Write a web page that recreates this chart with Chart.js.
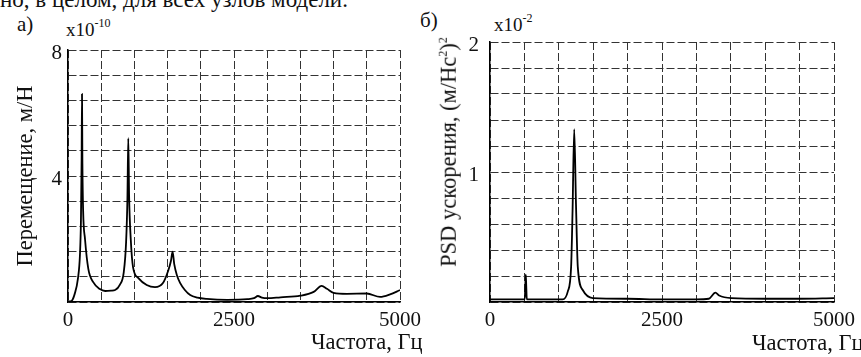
<!DOCTYPE html>
<html>
<head>
<meta charset="utf-8">
<script src="https://cdn.jsdelivr.net/npm/chart.js@4.4.1/dist/chart.umd.min.js"></script>
<style>
    body { margin: 0; background: #fff; width: 861px; height: 357px; overflow: hidden; position: relative;
           font-family: "Liberation Serif", "DejaVu Serif", serif; color: #111; }
    .box { position: absolute; top: 0; height: 357px; }
    .txt { position: absolute; white-space: nowrap; line-height: 1; font-size: 22.5px; }
    .txt sup { font-size: 12px; vertical-align: baseline; position: relative; top: -9px; }
</style>
</head>
<body>
<div class="txt" style="left:0; top:-12px; font-size:23px;">но, в целом, для всех узлов модели.</div>
<div class="txt" style="left:17px; top:14px; font-size:21px;">а)</div>
<div class="txt" style="left:66px; top:20px; font-size:19px;">x10<sup>-10</sup></div>
<div class="txt" style="left:420px; top:10px; font-size:21px;">б)</div>
<div class="txt" style="left:494px; top:15px; font-size:19px;">x10<sup>-2</sup></div>

<div class="box" style="left:0; width:430px;"><canvas id="chartA" width="430" height="357"></canvas></div>
<div class="box" style="left:430px; width:431px;"><canvas id="chartB" width="431" height="357"></canvas></div>

<div class="txt" style="left:311px; top:331px;">Частота, Гц</div>
<div class="txt" style="left:752px; top:332px;">Частота, Гц</div>
<div class="txt" style="left:449px; top:152px; transform: translate(-50%, -50%) rotate(-90deg);">PSD ускорения, (м/Нс<sup>2</sup>)<sup>2</sup></div>

<script>
// а) displacement FRF, x10^-10 m/N
const freqA = [0, 50, 100, 150, 180, 195, 205, 211, 217, 228,
               256, 306, 380, 480, 560, 650, 710, 780, 840, 875,
               895, 908, 920, 945, 980, 1060, 1185, 1310, 1430, 1510,
               1550, 1575, 1600, 1640, 1690, 1760, 1840, 1950, 2090, 2400,
               2700, 2800, 2860, 2920, 3000, 3200, 3500, 3700, 3820, 3900,
               4000, 4200, 4500, 4700, 4850, 5000];
const dispA = [0.02, 0.03, 0.25, 0.75, 1.5, 2.6, 4.5, 6.6, 4.4, 2.9,
               2.0, 1.05, 0.63, 0.41, 0.35, 0.36, 0.38, 0.54, 0.95, 1.9,
               3.3, 5.2, 3.4, 2.0, 1.1, 0.76, 0.54, 0.47, 0.6, 1.0,
               1.3, 1.6, 1.2, 0.85, 0.6, 0.38, 0.22, 0.14, 0.1, 0.07,
               0.09, 0.12, 0.19, 0.14, 0.12, 0.15, 0.2, 0.32, 0.51, 0.42,
               0.29, 0.26, 0.27, 0.16, 0.24, 0.38];

// б) acceleration PSD, x10^-2
const freqB = [0, 300, 505, 513, 520, 527, 535, 800, 1055, 1130,
               1179, 1200, 1224, 1250, 1276, 1350, 1494, 2000, 2500, 3000,
               3180, 3276, 3330, 3510, 4000, 4500, 5000];
const psdB = [0.02, 0.02, 0.02, 0.12, 0.21, 0.12, 0.02, 0.02, 0.02, 0.08,
              0.27, 0.7, 1.33, 0.75, 0.27, 0.09, 0.03, 0.025, 0.02, 0.02,
              0.025, 0.072, 0.05, 0.03, 0.025, 0.025, 0.03];

const xTickLabels = [0, 2500, 5000];
const yTickLabelsA = [4, 8];
const yTickLabelsB = [1, 2];

const FONT = '"Liberation Serif", "DejaVu Serif", serif';

function makeChart(id, xs, ys, cfg) {
    const points = xs.map((x, i) => ({ x: x, y: ys[i] }));
    return new Chart(document.getElementById(id), {
        type: 'line',
        data: {
            datasets: [{
                data: points,
                borderColor: '#000',
                borderWidth: 1.8,
                pointRadius: 0,
                cubicInterpolationMode: 'monotone',
                fill: false
            }]
        },
        options: {
            responsive: false,
            animation: false,
            layout: { padding: cfg.padding },
            plugins: { legend: { display: false }, tooltip: { enabled: false } },
            scales: {
                x: {
                    type: 'linear', min: 0, max: 5000,
                    afterFit: s => { s.height = 55; },
                    grid: { color: '#333', lineWidth: 1, drawTicks: false },
                    border: { color: '#000', width: 1.5, dash: [8, 3] },
                    ticks: {
                        stepSize: 500, autoSkip: false, maxRotation: 0, padding: 6,
                        color: '#111', font: { family: FONT, size: 21 },
                        callback: v => xTickLabels.includes(v) ? String(v) : ''
                    }
                },
                y: {
                    min: 0, max: cfg.yMax,
                    afterFit: s => { s.width = cfg.yWidth; },
                    grid: { color: '#333', lineWidth: 1, drawTicks: false },
                    border: { color: '#000', width: 1.5, dash: [8, 3] },
                    ticks: {
                        stepSize: cfg.yStep, autoSkip: false, padding: cfg.yPad, labelOffset: 3,
                        color: '#111', font: { family: FONT, size: 21 },
                        callback: v => cfg.yLabels.some(l => Math.abs(l - v) < 1e-6) ? String(Math.round(v)) : ''
                    },
                    title: cfg.yTitle
                }
            }
        }
    });
}

makeChart('chartA', freqA, dispA, {
    padding: { top: 50, right: 30, left: 0, bottom: 0 },
    yMax: 8, yStep: 0.8, yWidth: 68, yPad: 6, yLabels: yTickLabelsA,
    yTitle: { display: true, text: 'Перемещение, м/Н', color: '#111',
              font: { family: FONT, size: 22.5 }, padding: { top: 13, bottom: 0 } }
});

makeChart('chartB', freqB, psdB, {
    padding: { top: 42, right: 25, left: 0, bottom: 0 },
    yMax: 2, yStep: 0.2, yWidth: 60, yPad: 11, yLabels: yTickLabelsB,
    yTitle: { display: false }
});
</script>
</body>
</html>
